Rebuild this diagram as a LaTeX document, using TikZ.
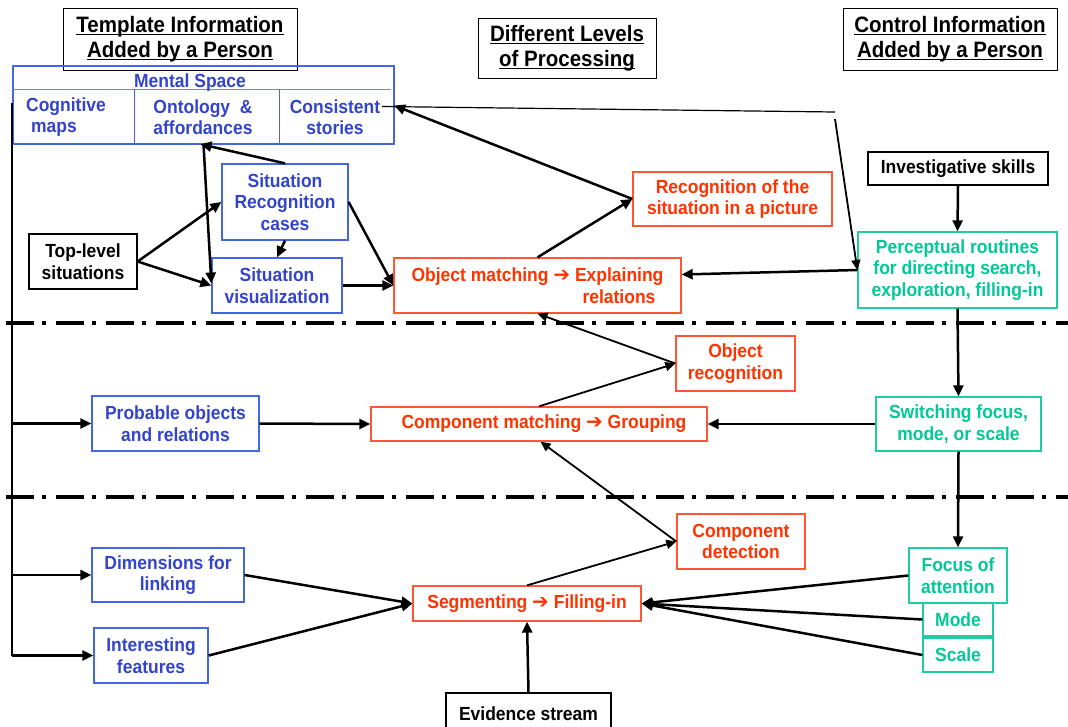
\documentclass[tikz,border=0pt]{standalone}
\usepackage{fontspec}
\setmainfont{Liberation Sans}[FakeStretch=0.92]
\newfontfamily\arrfont{DejaVu Sans}
\usetikzlibrary{arrows.meta,calc}
\definecolor{blueT}{RGB}{51,68,204}
\definecolor{blueB}{RGB}{68,102,224}
\definecolor{redT}{RGB}{255,51,0}
\definecolor{redB}{RGB}{255,85,51}
\definecolor{greenT}{RGB}{0,200,150}
\definecolor{greenB}{RGB}{30,205,160}
\newcommand\bodyfont{\fontsize{19}{21.5}\selectfont\bfseries}
\newcommand\titlefont{\fontsize{22.3}{25}\selectfont\bfseries}
\newcommand\harr{{\arrfont\bfseries\fontsize{20}{21.5}\selectfont ➔}}
\newcommand\ulx[1]{\setbox0\hbox{#1}\rlap{\rule[-3.2pt]{\wd0}{1.7pt}}\box0}
\tikzset{
  box/.style={draw, rectangle, inner sep=0pt, align=center, font=\bodyfont, line width=1.3pt},
  bbox/.style={box, draw=blueB, text=blueT},
  rbox/.style={box, draw=redB, text=redT},
  gbox/.style={box, draw=greenB, text=greenT},
  kbox/.style={box, draw=black, text=black},
  ttl/.style={draw=black, line width=1pt, align=center, font=\titlefont, inner sep=0pt},
  btext/.style={text=blueT, font=\bodyfont, align=center, inner sep=0pt},
  arr/.style={-{Triangle[length=11pt,width=10pt]}, line width=2.5pt},
  marr/.style={-{Triangle[length=10pt,width=9pt]}, line width=1.8pt},
  thin/.style={line width=1.2pt},
  dd/.style={line width=4pt, dash pattern=on 28pt off 8pt on 4pt off 10pt},
  cell/.style={rectangle, inner sep=0pt, draw=none}
}
\begin{document}
\begin{tikzpicture}[x=1pt,y=-1pt]
\useasboundingbox (0,0) rectangle (1068,726);

% titles
\node[ttl, minimum width=234pt, minimum height=62pt] (T1) at (180,39) {\ulx{Template Information}\\\ulx{Added by a Person}};
\node[ttl, minimum width=178pt, minimum height=60pt] (T2) at (567,48) {\ulx{Different Levels}\\\ulx{of Processing}};
\node[ttl, minimum width=214pt, minimum height=62pt] (T3) at (950,39) {\ulx{Control Information}\\\ulx{Added by a Person}};

% mental space
\node[draw=blueB, line width=2.3pt, rectangle, inner sep=0pt, minimum width=381pt, minimum height=78pt] (MS) at (203.5,105) {};
\draw[blueB!80, line width=1pt] (13,89) -- (391,89);
\draw[blueB, line width=1pt] (134,89) -- (134,144);
\draw[blueB, line width=1pt] (279,89) -- (279,144);
\node[btext] (mst) at (190,83) {Mental Space};
\node[cell, minimum width=121pt, minimum height=55pt] (cogc) at (73.5,116.5) {};
\node[cell, minimum width=145pt, minimum height=55pt] (ontc) at (206.5,116.5) {};
\node[cell, minimum width=115pt, minimum height=55pt] (consc) at (336.5,116.5) {};
\node[btext, align=left] (cog) at (66,117) {Cognitive\\\hspace{5pt}maps};
\node[btext] (ont) at (203,117) {Ontology\ \ \&\\affordances};
\node[btext] (cons) at (335,117) {Consistent\\stories};

% left column
\node[bbox, minimum width=126pt, minimum height=76pt] (SRC) at (285,202) {Situation\\Recognition\\cases};
\node[bbox, minimum width=130pt, minimum height=55pt] (SV) at (277,285.5) {Situation\\visualization};
\node[kbox, minimum width=108pt, minimum height=55pt] (TL) at (83,261.5) {Top-level\\situations};
\node[bbox, minimum width=167pt, minimum height=55pt] (PO) at (175.5,423.5) {Probable objects\\and relations};
\node[bbox, minimum width=152pt, minimum height=54pt] (DL) at (168,575) {Dimensions for\\linking};
\node[bbox, minimum width=114pt, minimum height=55pt] (IF) at (151,655.5) {Interesting\\features};

% middle column
\node[rbox, align=right, minimum width=287pt, minimum height=55pt] (OM) at (537.5,285.5) {Object matching \harr{} Explaining\\relations\rule{8pt}{0pt}};
\node[rbox, minimum width=199pt, minimum height=54pt] (RS) at (732.5,199) {Recognition of the\\situation in a picture};
\node[rbox, minimum width=119pt, minimum height=55pt] (OR) at (735.5,363.5) {Object\\recognition};
\node[rbox, minimum width=336pt, minimum height=34pt] (CM) at (539,424) {\hspace{10pt}Component matching \harr{} Grouping};
\node[rbox, minimum width=128pt, minimum height=55pt] (CD) at (741,541.5) {Component\\detection};
\node[rbox, minimum width=228pt, minimum height=35pt] (SG) at (527,603.5) {Segmenting \harr{} Filling-in};
\node[kbox, minimum width=165pt, minimum height=42pt] (ES) at (528.5,714) {Evidence stream};

% right column
\node[kbox, minimum width=180pt, minimum height=33pt] (IS) at (958,168.5) {Investigative skills};
\node[gbox, minimum width=199pt, minimum height=76pt] (PR) at (957.5,270) {Perceptual routines\\for directing search,\\exploration, filling-in};
\node[gbox, minimum width=165pt, minimum height=54pt] (SF) at (958.5,424) {Switching focus,\\mode, or scale};
\node[gbox, minimum width=98pt, minimum height=55pt] (FA) at (958,575.5) {Focus of\\attention};
\node[gbox, minimum width=70pt, minimum height=33pt] (MO) at (958,619.5) {Mode};
\node[gbox, minimum width=70pt, minimum height=34pt] (SC) at (958,655) {Scale};

% level separators
\coordinate (dl1) at (6,323);
\coordinate (dr1) at (1068,323);
\coordinate (dl2) at (6,497);
\coordinate (dr2) at (1068,497);
\draw[dd] (dl1) -- (dr1);
\draw[dd] (dl2) -- (dr2);

% top-left connectors
\draw[arr] (SRC.north) -- ([xshift=-6pt]ontc.south);
\draw[arr] ([xshift=-3pt]ontc.south) -- ([yshift=2pt]SV.west);
\draw[arr] (TL.east) -- (SRC.west);
\draw[arr] (TL.east) -- (SV.west);
\draw[arr] (SRC.south) -- (SV.north);
\draw[arr] (SRC.east) -- (OM.west);
\draw[arr] (SV.east) -- (OM.west);
\draw[arr] (OM.north) -- (RS.west);
\draw[arr] (RS.west) -- ([yshift=11pt]consc.east);

% consistent stories -> perceptual routines
\coordinate (k1) at (835,112);
\coordinate (k2) at (835,119);
\draw[thin] ([xshift=-12pt,yshift=10pt]consc.east) -- (k1);
\draw[marr] (k2) -- (PR.west);
\draw[arr] (PR.west) -- ([yshift=11pt]OM.east);

% right column flow
\draw[arr] (IS.south) -- (PR.north);
\draw[arr] (PR.south) -- (SF.north);
\draw[arr] (SF.west) -- (CM.east);
\draw[arr] (SF.south) -- (FA.north);
\draw[arr] (FA.west) -- (SG.east);
\draw[arr] (MO.west) -- (SG.east);
\draw[arr] (SC.west) -- (SG.east);

% middle flow
\draw[arr] (ES.north) -- (SG.south);
\draw[marr] (SG.north) -- (CD.west);
\draw[marr] (CD.west) -- ([xshift=1.5pt]CM.south);
\draw[marr] (CM.north) -- (OR.west);
\draw[marr] (OR.west) -- (OM.south);

% left vertical feed
\coordinate (v0) at (12,103);
\draw[thin] (v0) -- (IF.west -| v0);
\draw[arr] (PO.west -| v0) -- (PO.west);
\draw[arr] (DL.west -| v0) -- (DL.west);
\draw[arr] (IF.west -| v0) -- (IF.west);
\draw[arr] (PO.east) -- (CM.west);
\draw[arr] (DL.east) -- (SG.west);
\draw[arr] (IF.east) -- (SG.west);
\end{tikzpicture}
\end{document}
